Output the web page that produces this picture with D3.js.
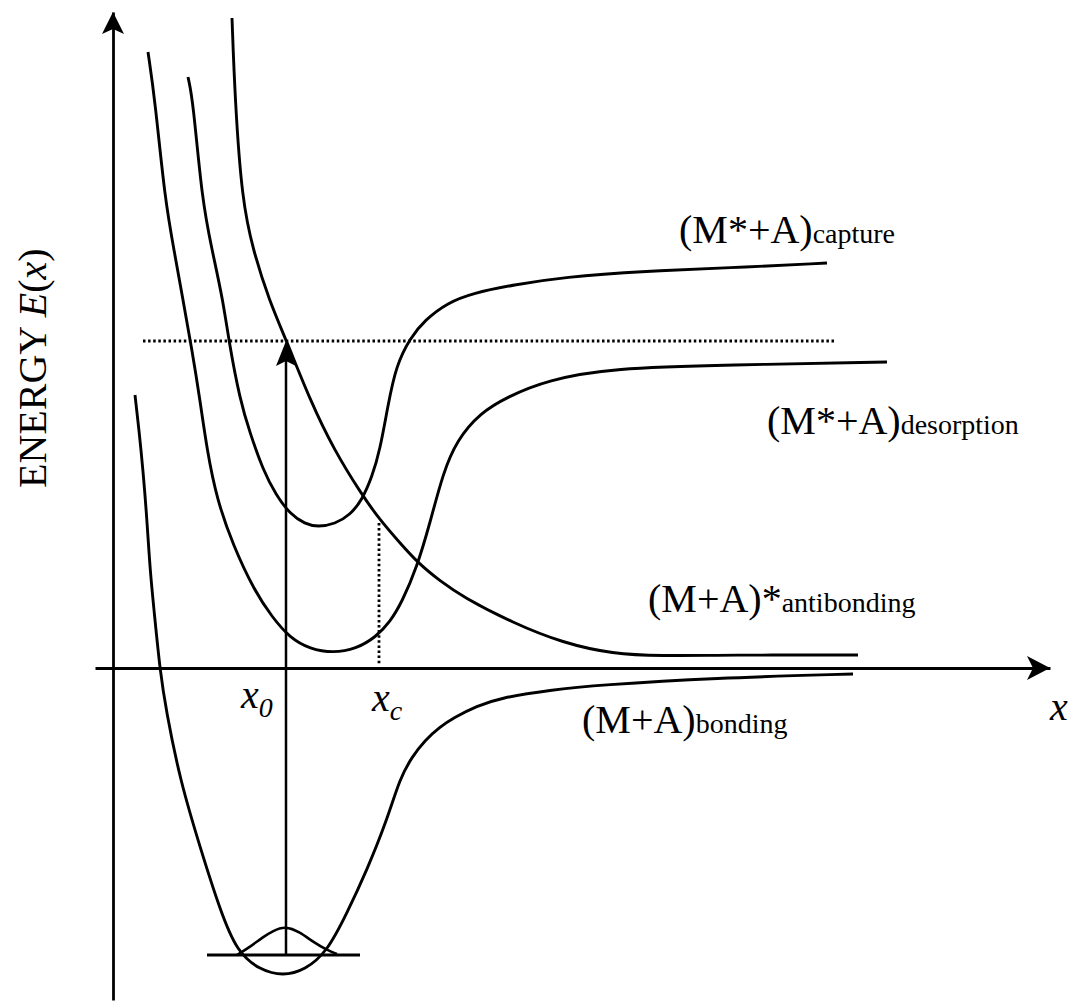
<!DOCTYPE html>
<html>
<head>
<meta charset="utf-8">
<script src="https://cdn.jsdelivr.net/npm/d3@7/dist/d3.min.js"></script>
<style>
  body { margin: 0; background: #fff; }
  svg { display: block; }
  text { font-family: "Liberation Serif", "Times New Roman", serif; fill: #000; }
</style>
</head>
<body>
<svg id="chart" width="1079" height="1008"></svg>
<script>
// Potential energy curves E(x) versus separation x (arbitrary units).

// (M+A) bonding ground state
const bondingX = [0.22, 0.26, 0.30, 0.34, 0.37, 0.42, 0.47, 0.53, 0.67, 0.87, 1.07, 1.24, 1.47, 1.70, 1.92, 2.14, 2.34, 2.54, 2.74, 2.87, 2.99, 3.12, 3.27, 3.40, 3.64, 3.87, 4.37, 4.87, 6.00, 7.40];
const bondingE = [2.73, 2.38, 1.98, 1.48, 0.98, 0.48, -0.02, -0.42, -1.12, -1.79, -2.42, -2.84, -3.02, -3.08, -3.02, -2.84, -2.45, -2.02, -1.52, -1.10, -0.89, -0.72, -0.59, -0.50, -0.38, -0.30, -0.22, -0.17, -0.10, -0.06];

// (M*+A) desorption state
const desorptionX = [0.35, 0.42, 0.52, 0.61, 0.70, 0.79, 0.87, 0.94, 1.04, 1.20, 1.41, 1.59, 1.77, 1.97, 2.20, 2.43, 2.63, 2.77, 2.89, 3.04, 3.17, 3.30, 3.44, 3.67, 3.94, 4.34, 5.00, 6.14, 7.74];
const desorptionE = [6.16, 5.68, 4.68, 4.18, 3.68, 3.18, 2.68, 2.18, 1.68, 1.23, 0.78, 0.51, 0.30, 0.19, 0.15, 0.19, 0.31, 0.46, 0.66, 1.01, 1.45, 1.95, 2.28, 2.55, 2.71, 2.88, 3.00, 3.03, 3.06];

// (M*+A) capture state
const captureX = [0.75, 0.80, 0.89, 0.99, 1.10, 1.16, 1.27, 1.37, 1.50, 1.63, 1.77, 1.92, 2.05, 2.22, 2.37, 2.49, 2.59, 2.67, 2.75, 2.83, 2.97, 3.12, 3.34, 3.60, 4.00, 4.50, 5.34, 6.14, 7.14];
const captureE = [5.91, 5.68, 4.68, 4.18, 3.68, 3.26, 2.68, 2.35, 1.98, 1.73, 1.54, 1.44, 1.41, 1.44, 1.53, 1.68, 1.91, 2.18, 2.63, 3.02, 3.30, 3.48, 3.65, 3.75, 3.83, 3.91, 3.97, 4.00, 4.05];

// (M+A)* antibonding state
const antibondingX = [1.19, 1.22, 1.29, 1.40, 1.56, 1.74, 1.97, 2.21, 2.49, 2.67, 2.87, 3.05, 3.27, 3.50, 4.00, 4.50, 5.00, 5.47, 6.14, 7.45];
const antibondingE = [6.50, 5.68, 4.68, 4.18, 3.68, 3.26, 2.68, 2.18, 1.73, 1.48, 1.25, 1.05, 0.87, 0.71, 0.45, 0.25, 0.14, 0.12, 0.13, 0.13];

// Ground vibrational level and its wavepacket
const levelE = -2.87;
const levelX = [0.94, 2.47];
const packetX = [1.24, 1.37, 1.50, 1.60, 1.72, 1.87, 2.00, 2.14, 2.24];
const packetE = [-2.87, -2.79, -2.69, -2.63, -2.58, -2.64, -2.74, -2.82, -2.86];

// Marked positions and the excitation energy
const x0 = 1.73;
const xc = 2.66;
const xcE = 1.45;
const excitationE = 3.27;
const excitationX = [0.30, 7.22];

// Label texts
const stateNames = ["(M*+A)", "(M*+A)", "(M+A)*", "(M+A)"];
const stateSubs = ["capture", "desorption", "antibonding", "bonding"];

const svg = d3.select("#chart");
const x = d3.scaleLinear().domain([-0.18, 9.37]).range([95, 1050]);
const y = d3.scaleLinear().domain([-3.32, 6.56]).range([1000, 12]);

const zip = (xs, es) => xs.map((v, i) => [v, es[i]]);
const line = d3.line()
  .x(d => x(d[0]))
  .y(d => y(d[1]))
  .curve(d3.curveBasis);

// Axes without ticks: the domain lines only
const xAxis = svg.append("g")
  .attr("transform", `translate(0,${y(0)})`)
  .call(d3.axisBottom(x).tickValues([]).tickSizeOuter(0));
const yAxis = svg.append("g")
  .attr("transform", `translate(${x(0)},0)`)
  .call(d3.axisLeft(y).tickValues([]).tickSizeOuter(0));
[xAxis, yAxis].forEach(g => g.select(".domain").attr("stroke", "#000").attr("stroke-width", 2.8));

// Barbed arrowhead pointing along angle (degrees) with its tip at (tx, ty)
function arrowHead(tx, ty, angle, len, half, notch) {
  svg.append("path")
    .attr("d", `M0,0 L${-len},${-half} L${-len + notch},0 L${-len},${half} Z`)
    .attr("transform", `translate(${tx},${ty}) rotate(${angle})`)
    .attr("fill", "#000");
}
arrowHead(x(9.37), y(0), 0, 23, 12, 6);
arrowHead(x(0), y(6.56), -90, 22, 11, 5);

// Potential curves
const curves = [
  zip(bondingX, bondingE),
  zip(desorptionX, desorptionE),
  zip(captureX, captureE),
  zip(antibondingX, antibondingE)
];
svg.append("g").selectAll("path")
  .data(curves)
  .join("path")
  .attr("d", line)
  .attr("fill", "none")
  .attr("stroke", "#000")
  .attr("stroke-width", 2.9)
  .attr("stroke-linejoin", "round");

// Ground vibrational level
svg.append("line")
  .attr("x1", x(levelX[0])).attr("x2", x(levelX[1]))
  .attr("y1", y(levelE)).attr("y2", y(levelE))
  .attr("stroke", "#000").attr("stroke-width", 3.2);

// Wavepacket on the level
svg.append("path")
  .attr("d", line(zip(packetX, packetE)))
  .attr("fill", "none").attr("stroke", "#000").attr("stroke-width", 2.6);

// Vertical excitation at x0
svg.append("line")
  .attr("x1", x(x0)).attr("x2", x(x0))
  .attr("y1", y(levelE)).attr("y2", y(excitationE) + 10)
  .attr("stroke", "#000").attr("stroke-width", 2.5);
arrowHead(x(x0), y(excitationE), -90, 25, 10, 5);

// Dotted excitation energy level
svg.append("line")
  .attr("x1", x(excitationX[0])).attr("x2", x(excitationX[1]))
  .attr("y1", y(excitationE)).attr("y2", y(excitationE))
  .attr("stroke", "#000").attr("stroke-width", 3)
  .attr("stroke-dasharray", "2.5,2.6");

// Dotted drop at the crossing xc
svg.append("line")
  .attr("x1", x(xc)).attr("x2", x(xc))
  .attr("y1", y(xcE)).attr("y2", y(0.03))
  .attr("stroke", "#000").attr("stroke-width", 2.8)
  .attr("stroke-dasharray", "2.5,2.6");

// State labels: main text followed by a smaller suffix
const labelPos = [[679, 243], [767, 434], [648, 612], [582, 733]];
labelPos.forEach((p, i) => {
  const t = svg.append("text")
    .attr("x", p[0]).attr("y", p[1])
    .style("font-size", "40px");
  t.append("tspan").text(stateNames[i]);
  t.append("tspan").style("font-size", "28px").text(stateSubs[i]);
});

// Position labels x0 and xc
function posLabel(px, py, sub) {
  const t = svg.append("text").attr("x", px).attr("y", py)
    .style("font-size", "40px").style("font-style", "italic");
  t.append("tspan").text("x");
  t.append("tspan").attr("dy", 9).style("font-size", "28px").text(sub);
}
posLabel(241, 708, "0");
posLabel(372, 711, "c");

// Axis titles
svg.append("text")
  .attr("x", 1050).attr("y", 720)
  .style("font-size", "40px").style("font-style", "italic")
  .text("x");

const yt = svg.append("text")
  .attr("transform", "translate(46,488) rotate(-90)")
  .style("font-size", "40px");
yt.append("tspan").text("ENERGY ");
yt.append("tspan").style("font-style", "italic").text("E");
yt.append("tspan").text("(");
yt.append("tspan").style("font-style", "italic").text("x");
yt.append("tspan").text(")");
</script>
</body>
</html>
